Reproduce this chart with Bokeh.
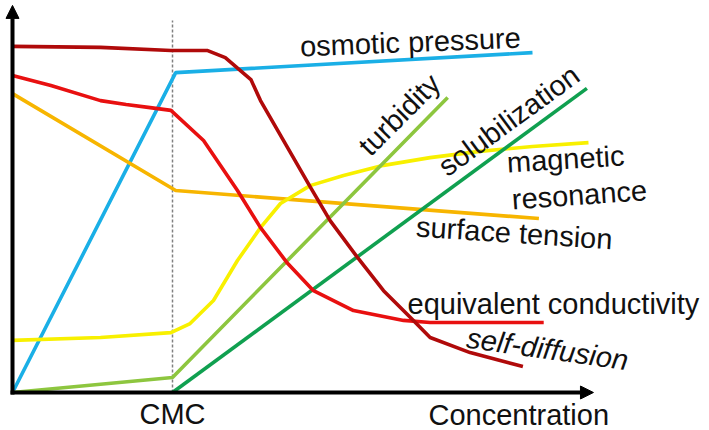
import math
from bokeh.plotting import figure
from bokeh.models import Range1d, Arrow, NormalHead
from bokeh.core.properties import value
from bokeh.embed import file_html
from bokeh.resources import INLINE

# ---- data (arbitrary units: x = concentration, CMC = 1.0) ----
cmc = 1.0

osm_x = [0.0, 1.02, 3.25]
osm_y = [0.0, 9.14, 9.71]

surf_x = [0.0, 1.02, 3.29]
surf_y = [8.54, 5.77, 4.97]

mag_x = [0.0, 0.55, 0.99, 1.11, 1.256, 1.406, 1.55, 1.675, 1.86, 2.069, 2.319, 2.61, 2.92, 3.25, 3.6]
mag_y = [1.49, 1.57, 1.71, 1.97, 2.63, 3.77, 4.71, 5.4, 5.91, 6.2, 6.49, 6.71, 6.89, 7.03, 7.14]

turb_x = [0.0, 1.0, 2.72]
turb_y = [0.0, 0.43, 8.43]

solu_x = [1.0, 3.59]
solu_y = [0.0, 8.69]

cond_x = [0.0, 0.24, 0.55, 0.71, 0.86, 0.99, 1.194, 1.406, 1.55, 1.719, 1.881, 2.131, 2.444, 2.61, 3.32]
cond_y = [9.06, 8.77, 8.34, 8.23, 8.14, 8.06, 7.2, 5.77, 4.71, 3.69, 2.91, 2.34, 2.06, 2.0, 2.0]

diff_x = [0.0, 0.55, 0.99, 1.22, 1.33, 1.49, 1.55, 1.8625, 1.985, 2.156, 2.319, 2.487, 2.61, 2.86, 3.19]
diff_y = [9.89, 9.86, 9.77, 9.77, 9.57, 8.94, 8.34, 5.86, 4.91, 3.86, 2.91, 2.14, 1.57, 1.14, 0.74]

labels = ["osmotic pressure", "turbidity", "solubilization", "magnetic", "resonance",
          "surface tension", "equivalent  conductivity", "self-diffusion", "CMC", "Concentration"]
lab_x = [1.8, 2.2375, 2.719, 3.094, 3.125, 2.519, 2.469, 2.831, 1.0, 2.6]
lab_y = [9.6, 6.714, 6.143, 6.286, 5.229, 4.457, 2.229, 1.286, -0.9, -0.93]
lab_ang = [0.04, 0.785, 0.63, 0.06, 0.07, -0.065, 0.0, -0.14, 0.0, 0.0]

axis_x_end = 3.631
axis_y_end = 11.06

# ---- figure ----
W, H = 709, 430
xr = (-0.075, 4.35625)
yr = (-1.0857, 11.2)
p = figure(width=W, height=H, output_backend="svg", toolbar_location=None,
           x_range=Range1d(*xr), y_range=Range1d(*yr),
           min_border=0, outline_line_color=None)
p.axis.visible = False
p.grid.visible = False

# CMC dashed line
p.line([cmc, cmc], [0, 10.63], line_color="#808080", line_width=1.5, line_dash="3 2")

lw = 3.6
p.line(osm_x, osm_y, line_color="#1AAFE6", line_width=lw)
p.line(surf_x, surf_y, line_color="#F7B500", line_width=lw)
p.line(mag_x, mag_y, line_color="#F8F000", line_width=lw)
p.line(turb_x, turb_y, line_color="#8DC63F", line_width=lw)
p.line(solu_x, solu_y, line_color="#10A050", line_width=lw)
p.line(cond_x, cond_y, line_color="#E81010", line_width=lw)
p.line(diff_x, diff_y, line_color="#B00A0A", line_width=lw)

# axes with arrows
p.add_layout(Arrow(end=NormalHead(size=13, fill_color="black", line_color="black"),
                   x_start=0, y_start=-0.06, x_end=0, y_end=axis_y_end,
                   line_color="black", line_width=4))
p.add_layout(Arrow(end=NormalHead(size=13, fill_color="black", line_color="black"),
                   x_start=-0.012, y_start=0, x_end=axis_x_end, y_end=0,
                   line_color="black", line_width=4))

# text (baseline correction for the renderer, in screen pixels)
font = value("Liberation Sans")
fs = "29px"
fix = 10.0
px_x = W / (xr[1] - xr[0])
px_y = H / (yr[1] - yr[0])
for i, t in enumerate(labels):
    a = lab_ang[i]
    style = "italic" if t == "self-diffusion" else "normal"
    align = "center" if t == "CMC" else "left"
    tx = lab_x[i] - fix * math.sin(a) / px_x
    ty = lab_y[i] + fix * math.cos(a) / px_y
    p.text([tx], [ty], text=[t], angle=a, text_font=font,
           text_font_size=fs, text_align=align, text_baseline="alphabetic",
           text_color="#111111", text_font_style=style)

open("out.html", "w").write(file_html(p, INLINE))
